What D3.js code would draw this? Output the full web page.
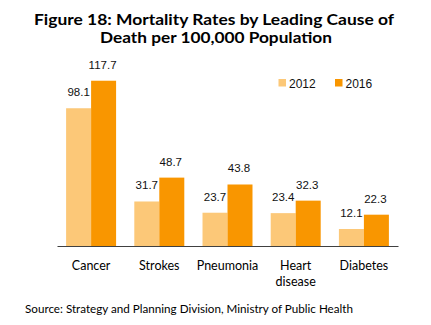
<!DOCTYPE html>
<html>
<head>
<meta charset="utf-8">
<script src="https://cdn.jsdelivr.net/npm/d3@7"></script>
<style>
  html, body { margin: 0; padding: 0; background: #fff; }
  svg { display: block; }
</style>
</head>
<body>
<div id="chart"></div>
<script>
// Mortality rates per 100,000 population by leading cause of death
const causes = ["Cancer", "Strokes", "Pneumonia", "Heart disease", "Diabetes"];
const years = ["2012", "2016"];
const rates2012 = [98.1, 31.7, 23.7, 23.4, 12.1];
const rates2016 = [117.7, 48.7, 43.8, 32.3, 22.3];
const seriesColors = ["#FCC878", "#F99600"];

const W = 431, H = 325;
const svg = d3.select("#chart").append("svg")
  .attr("width", W).attr("height", H);

const rows = causes.map((c, i) => ({ cause: c, values: [rates2012[i], rates2016[i]] }));

const x = d3.scaleBand().domain(causes).range([57, 398])
  .paddingInner(0.267).paddingOuter(0.1335);
const xs = d3.scaleBand().domain(years).range([0, x.bandwidth()]);
const y = d3.scaleLinear().domain([0, 120]).range([246, 77.5]);

const sans = "'Lato', 'Open Sans', sans-serif";
const numFont = "'Liberation Sans', Arial, sans-serif";

// Title
const title = svg.append("text")
  .attr("text-anchor", "middle")
  .attr("font-family", sans).attr("font-weight", "bold")
  .attr("font-size", 15.5).attr("fill", "#000");
title.append("tspan").attr("x", 214).attr("y", 25)
  .attr("textLength", 360).attr("lengthAdjust", "spacingAndGlyphs")
  .text("Figure 18: Mortality Rates by Leading Cause of");
title.append("tspan").attr("x", 216).attr("y", 42.5)
  .attr("textLength", 232).attr("lengthAdjust", "spacingAndGlyphs")
  .text("Death per 100,000 Population");

// Bars
const groups = svg.append("g").selectAll("g").data(rows).join("g")
  .attr("transform", d => `translate(${x(d.cause)},0)`);

groups.selectAll("rect").data(d => d.values.map((v, k) => ({ year: years[k], v, k })))
  .join("rect")
  .attr("x", d => xs(d.year))
  .attr("width", xs.bandwidth())
  .attr("y", d => y(d.v))
  .attr("height", d => y(0) - y(d.v))
  .attr("fill", d => seriesColors[d.k]);

groups.selectAll("text.val").data(d => d.values.map((v, k) => ({ year: years[k], v, k })))
  .join("text").attr("class", "val")
  .attr("x", d => xs(d.year) + xs.bandwidth() / 2 - (d.k === 1 ? 1 : 0))
  .attr("y", d => y(d.v) - 12)
  .attr("text-anchor", "middle")
  .attr("font-family", numFont).attr("font-size", 11.5).attr("fill", "#111")
  .text(d => d.v.toFixed(1));

// Category axis
const axis = svg.append("g").attr("transform", `translate(0,${y(0)})`)
  .call(d3.axisBottom(x).tickSize(0).tickSizeOuter(0).tickPadding(0));
axis.select(".domain").attr("stroke", "#404040").attr("stroke-width", 1.2);
axis.selectAll(".tick text").remove();
axis.selectAll(".tick").append("text")
  .attr("text-anchor", "middle")
  .attr("font-family", sans).attr("font-size", 12.5).attr("fill", "#000")
  .each(function (d) {
    const words = d === "Heart disease" ? ["Heart", "disease"] : [d];
    const t = d3.select(this);
    words.forEach((w, i) => t.append("tspan").attr("x", 0).attr("y", 24 + i * 15.5).text(w));
  });

// Legend
const legend = svg.append("g").attr("font-family", numFont).attr("font-size", 12);
const legendX = [278.5, 335];
years.forEach((yr, k) => {
  legend.append("rect").attr("x", legendX[k]).attr("y", 79).attr("width", 7.5).attr("height", 7.5)
    .attr("fill", seriesColors[k]);
  legend.append("text").attr("x", legendX[k] + 10.5).attr("y", 87.5).attr("fill", "#111").text(yr);
});

// Source note
svg.append("text").attr("x", 25).attr("y", 313)
  .attr("font-family", sans).attr("font-size", 11).attr("fill", "#000")
  .attr("textLength", 328).attr("lengthAdjust", "spacingAndGlyphs")
  .text("Source: Strategy and Planning Division, Ministry of Public Health");
</script>
</body>
</html>
